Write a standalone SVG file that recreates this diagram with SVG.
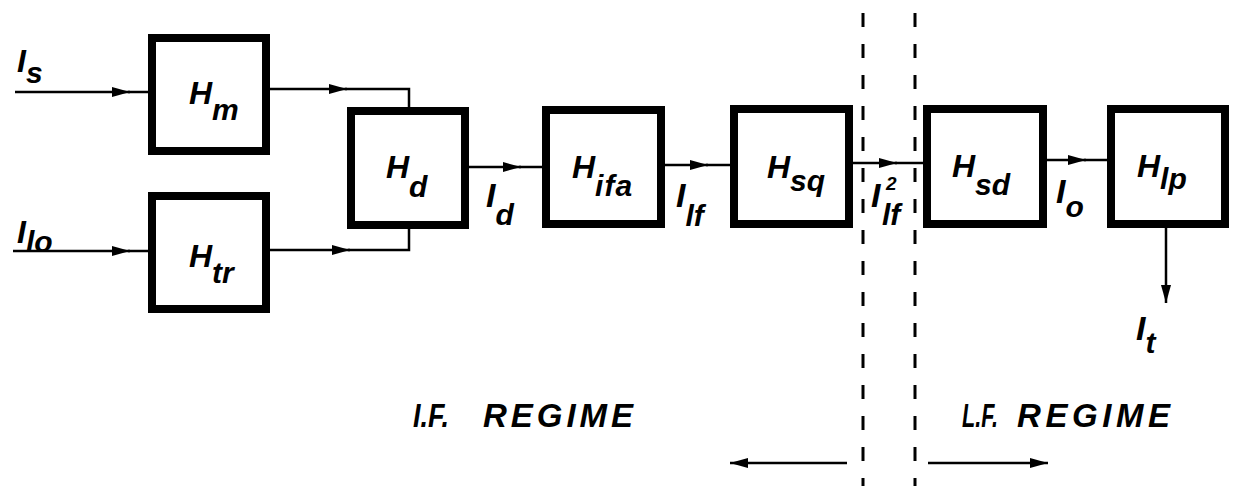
<svg xmlns="http://www.w3.org/2000/svg" width="1243" height="492" viewBox="0 0 1243 492">
<style>
.box{fill:#fff;stroke:#000;stroke-width:8}
.ln{fill:none;stroke:#000;stroke-width:2.5}
.dash{fill:none;stroke:#000;stroke-width:3;stroke-dasharray:14 17}
text{font-family:"Liberation Sans",Arial,sans-serif;font-weight:bold;font-style:italic;fill:#000}
.h{font-size:32px}
.s{font-size:30px}
.sig{font-size:34px}
.rg{font-size:33px}
</style>
<defs>
<marker id="ah" markerUnits="userSpaceOnUse" markerWidth="19" markerHeight="12" refX="18" refY="6" orient="auto">
<path d="M0,1 L18,6 L0,11 z" fill="#000"/>
</marker>
</defs>
<rect width="1243" height="492" fill="#fff"/>

<g id="connectors">
<line class="ln" x1="15" y1="92" x2="130" y2="92" marker-end="url(#ah)"/>
<line class="ln" x1="128" y1="92" x2="148" y2="92"/>
<line class="ln" x1="13" y1="251" x2="130" y2="251" marker-end="url(#ah)"/>
<line class="ln" x1="128" y1="251" x2="148" y2="251"/>
<line class="ln" x1="270" y1="89" x2="347" y2="89" marker-end="url(#ah)"/>
<polyline class="ln" points="345,89 409,89 409,107"/>
<line class="ln" x1="270" y1="250" x2="350" y2="250" marker-end="url(#ah)"/>
<polyline class="ln" points="348,250 409,250 409,229"/>
<line class="ln" x1="469" y1="167" x2="521" y2="167" marker-end="url(#ah)"/>
<line class="ln" x1="519" y1="167" x2="542" y2="167"/>
<line class="ln" x1="665" y1="165" x2="708" y2="165" marker-end="url(#ah)"/>
<line class="ln" x1="706" y1="165" x2="730" y2="165"/>
<line class="ln" x1="853" y1="163" x2="897" y2="163" marker-end="url(#ah)"/>
<line class="ln" x1="895" y1="163" x2="923" y2="163"/>
<line class="ln" x1="1047" y1="160" x2="1086" y2="160" marker-end="url(#ah)"/>
<line class="ln" x1="1084" y1="160" x2="1107" y2="160"/>
<line class="ln" x1="1166" y1="228" x2="1166" y2="303" marker-end="url(#ah)"/>
<line class="ln" x1="847" y1="463" x2="730" y2="463" marker-end="url(#ah)"/>
<line class="ln" x1="928" y1="463" x2="1048" y2="463" marker-end="url(#ah)"/>
<line class="dash" x1="863" y1="13" x2="863" y2="486"/>
<line class="dash" x1="915" y1="13" x2="915" y2="486"/>
</g>

<g id="node-Hm">
<rect class="box" x="152" y="38" width="114" height="113"/>
<text class="h" x="189" y="104">H<tspan class="s" dy="16">m</tspan></text>
</g>
<g id="node-Htr">
<rect class="box" x="152" y="196" width="114" height="113"/>
<text class="h" x="189" y="267">H<tspan class="s" dy="16">tr</tspan></text>
</g>
<g id="node-Hd">
<rect class="box" x="351" y="111" width="114" height="114"/>
<text class="h" x="386" y="178">H<tspan class="s" dy="19">d</tspan></text>
</g>
<g id="node-Hifa">
<rect class="box" x="546" y="110" width="115" height="114"/>
<text class="h" x="572" y="178">H<tspan class="s" dy="18" letter-spacing="1">ifa</tspan></text>
</g>
<g id="node-Hsq">
<rect class="box" x="734" y="109" width="115" height="115"/>
<text class="h" x="767" y="178">H<tspan class="s" dy="13">sq</tspan></text>
</g>
<g id="node-Hsd">
<rect class="box" x="927" y="109" width="116" height="115"/>
<text class="h" x="952" y="177">H<tspan class="s" dy="18">sd</tspan></text>
</g>
<g id="node-Hlp">
<rect class="box" x="1111" y="109" width="114" height="115"/>
<text class="h" x="1137" y="177">H<tspan class="s" dy="12">lp</tspan></text>
</g>

<g id="labels">
<text class="h" x="17" y="72">I<tspan class="s" dy="11">s</tspan></text>
<text class="h" x="17" y="243">I<tspan class="s" dy="9">lo</tspan></text>
<text class="sig" x="486" y="207">I<tspan class="s" dy="18">d</tspan></text>
<text class="sig" x="676" y="207">I<tspan class="s" dy="19">lf</tspan></text>
<text class="sig" x="871" y="207">I</text>
<text style="font-size:19px" x="886" y="190">2</text>
<text class="s" x="882" y="225">lf</text>
<text class="sig" x="1056" y="203">I<tspan class="s" dy="14">o</tspan></text>
<text class="sig" x="1136" y="340">I<tspan class="s" dy="13">t</tspan></text>
<text class="rg" x="413" y="427" textLength="36" lengthAdjust="spacingAndGlyphs">I.F.</text>
<text class="rg" x="483" y="427" textLength="150" lengthAdjust="spacing">REGIME</text>
<text class="rg" x="962" y="427" textLength="36" lengthAdjust="spacingAndGlyphs">L.F.</text>
<text class="rg" x="1017" y="427" textLength="153" lengthAdjust="spacing">REGIME</text>
</g>
</svg>
